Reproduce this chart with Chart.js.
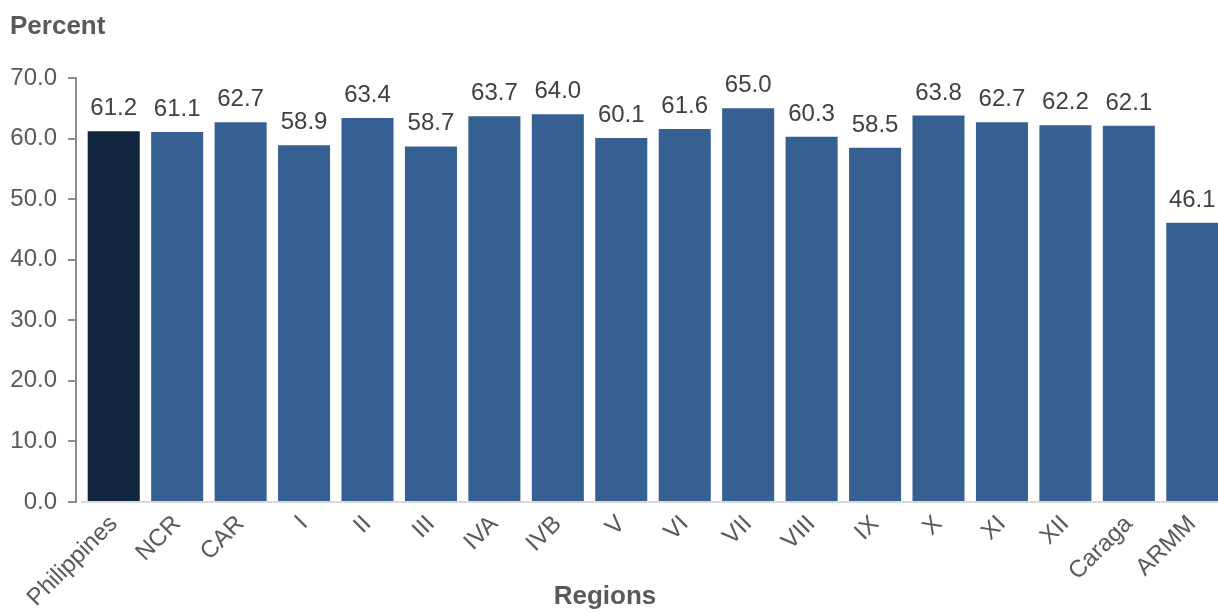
<!DOCTYPE html>
<html>
<head>
<meta charset="utf-8">
<script src="https://cdn.jsdelivr.net/npm/chart.js@4.4.1/dist/chart.umd.min.js"></script>
<style>
    html, body { margin: 0; padding: 0; overflow: hidden; background: #ffffff; }
    #grafico { display: block; }
</style>
</head>
<body>
<canvas id="grafico" width="1224" height="612"></canvas>
<script>
// Datos
const regiones = ['Philippines', 'NCR', 'CAR', 'I', 'II', 'III', 'IVA', 'IVB', 'V', 'VI',
    'VII', 'VIII', 'IX', 'X', 'XI', 'XII', 'Caraga', 'ARMM'];
const porcentajes = [61.2, 61.1, 62.7, 58.9, 63.4, 58.7, 63.7, 64.0, 60.1, 61.6,
    65.0, 60.3, 58.5, 63.8, 62.7, 62.2, 62.1, 46.1];
const colores = regiones.map(r => r === 'Philippines' ? '#12253f' : '#366092');

const fuente = "'Liberation Sans', Arial, sans-serif";
const grisTexto = '#595959';

// Etiquetas de valor y titulos de ejes
const etiquetasPlugin = {
    id: 'etiquetas',
    afterLayout(chart) {
        // desplazar un poco las barras respecto al eje Y, como en el original
        const x = chart.scales.x;
        x.left = 82;
        x.width = x.right - x.left;
        x.configure();
    },
    afterDatasetsDraw(chart) {
        const ctx = chart.ctx;
        const meta = chart.getDatasetMeta(0);
        ctx.save();
        ctx.font = '24px ' + fuente;
        ctx.fillStyle = '#404040';
        ctx.textAlign = 'center';
        ctx.textBaseline = 'alphabetic';
        meta.data.forEach((bar, i) => {
            ctx.fillText(porcentajes[i].toFixed(1), bar.x, bar.y - 16);
        });
        ctx.font = 'bold 26px ' + fuente;
        ctx.fillStyle = grisTexto;
        ctx.textAlign = 'left';
        ctx.textBaseline = 'middle';
        ctx.fillText('Percent', 10, 27);
        ctx.textAlign = 'center';
        ctx.fillText('Regions', 605, 597);
        ctx.restore();
    }
};

const ctx = document.getElementById('grafico').getContext('2d');
const grafico = new Chart(ctx, {
    type: 'bar',
    data: {
        labels: regiones,
        datasets: [{
            data: porcentajes,
            backgroundColor: colores,
            borderWidth: 0,
            barPercentage: 0.82,
            categoryPercentage: 1.0
        }]
    },
    options: {
        responsive: false,
        animation: false,
        layout: { padding: { top: 78, left: 0, right: 0, bottom: 0 } },
        plugins: {
            legend: { display: false },
            tooltip: { enabled: false }
        },
        scales: {
            y: {
                min: 0,
                max: 70,
                afterFit: (scale) => { scale.width = 76; },
                ticks: {
                    stepSize: 10,
                    padding: 11,
                    color: grisTexto,
                    font: { family: fuente, size: 24 },
                    callback: (v) => Number(v).toFixed(1)
                },
                grid: { drawOnChartArea: false, drawTicks: true, tickLength: 8, color: '#8c8c8c', lineWidth: 2 },
                border: { display: true, color: '#8c8c8c', width: 2 }
            },
            x: {
                afterFit: (scale) => {
                    scale.height = 110;
                    scale.paddingLeft = 0;
                    scale.paddingRight = 0;
                },
                ticks: {
                    autoSkip: false,
                    maxRotation: 45,
                    minRotation: 45,
                    padding: 0,
                    color: grisTexto,
                    font: { family: fuente, size: 24 }
                },
                grid: { display: false },
                border: { display: true, color: '#d9d9d9', width: 2 }
            }
        }
    },
    plugins: [etiquetasPlugin]
});
</script>
</body>
</html>
